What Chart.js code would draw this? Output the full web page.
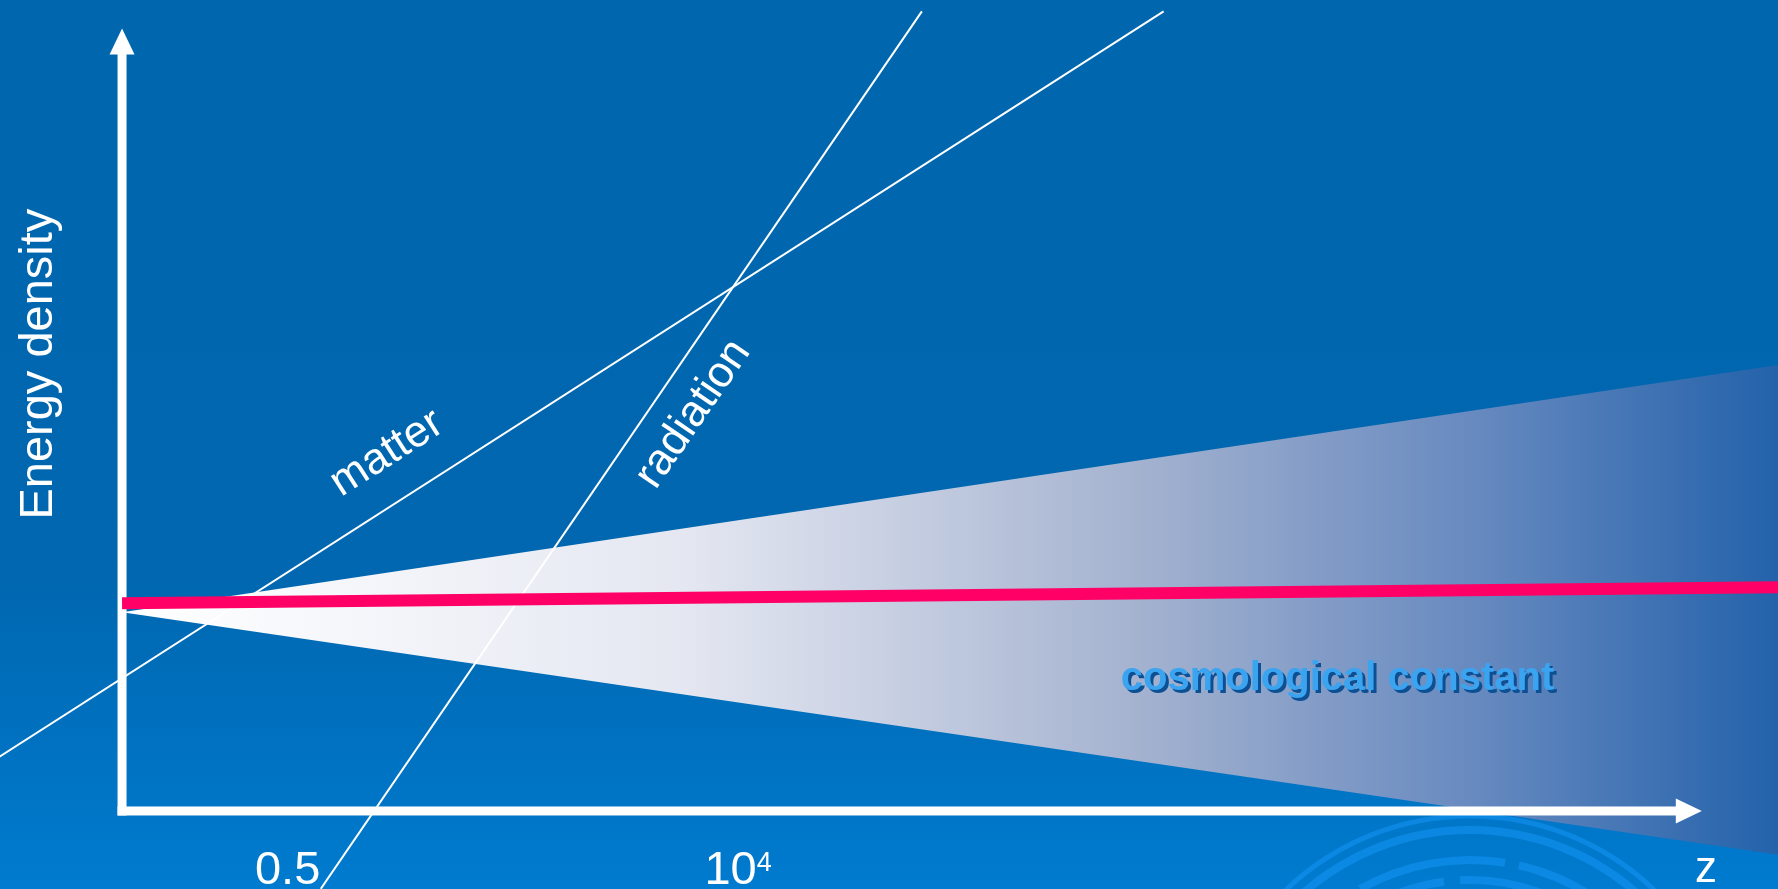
<!DOCTYPE html>
<html>
<head>
<meta charset="utf-8">
<script src="https://cdn.jsdelivr.net/npm/chart.js@4.4.0/dist/chart.umd.min.js"></script>
<style>
  html, body { margin: 0; padding: 0; background: #0066ae; overflow: hidden; }
  canvas { display: block; }
</style>
</head>
<body>
<canvas id="chart" width="1778" height="889"></canvas>
<script>
// energy density against z, in arbitrary (log) units
var lambdaX = [0, 100];
var lambdaY = [25.6, 27.6];
var matterX = [-7.4, 62.9];
var matterY = [6.7, 98.6];
var radiationX = [12.0, 48.3];
var radiationY = [-9.6, 98.6];
var wedgeX = [0, 100];
var wedgeTop = [24.5, 55.0];
var wedgeBottom = [24.5, -5.4];

var tickValues = [10, 37.2];
var tickLabels = ['0.5', '10'];
var tickPowers = ['', '4'];
var axisEnd = [95.4, 96.5];

var FONT = '"Liberation Sans", Arial, sans-serif';

function points(xs, ys) {
  return xs.map(function (x, i) { return { x: x, y: ys[i] }; });
}

function wedgeColor(context) {
  var chart = context.chart;
  if (!chart.chartArea) return '#ffffff';
  var xs = chart.scales.x;
  var x0 = xs.getPixelForValue(wedgeX[0]), x1 = xs.getPixelForValue(wedgeX[1]);
  var g = chart.ctx.createLinearGradient(x0, 0, x1, 0);
  g.addColorStop(0, 'rgb(255,255,255)');
  g.addColorStop(0.13, 'rgb(246,247,251)');
  g.addColorStop(0.34, 'rgb(228,231,241)');
  g.addColorStop(0.61, 'rgb(165,179,208)');
  g.addColorStop(0.82, 'rgb(102,137,191)');
  g.addColorStop(1, 'rgb(35,98,170)');
  return g;
}

function drawAxes(chart) {
  var ctx = chart.ctx, xs = chart.scales.x, ys = chart.scales.y;
  var ox = xs.getPixelForValue(0), oy = ys.getPixelForValue(0);
  var xe = xs.getPixelForValue(axisEnd[0]), ye = ys.getPixelForValue(axisEnd[1]);
  var head = 26, half = 12.5, w = 9;
  ctx.save();
  ctx.fillStyle = '#ffffff';
  ctx.fillRect(ox - w / 2, ye + head - 1, w, oy - ye - head + 1 + w / 2);
  ctx.fillRect(ox - w / 2, oy - w / 2, xe - head + 1 - ox + w / 2, w);
  ctx.beginPath();
  ctx.moveTo(ox, ye);
  ctx.lineTo(ox - half, ye + head);
  ctx.lineTo(ox + half, ye + head);
  ctx.closePath();
  ctx.fill();
  ctx.beginPath();
  ctx.moveTo(xe, oy);
  ctx.lineTo(xe - head, oy - half);
  ctx.lineTo(xe - head, oy + half);
  ctx.closePath();
  ctx.fill();
  ctx.restore();
}

function rotatedText(ctx, text, x, y, deg) {
  ctx.save();
  ctx.translate(x, y);
  ctx.rotate(deg * Math.PI / 180);
  ctx.fillText(text, 0, 0);
  ctx.restore();
}

var decor = {
  id: 'decor',
  beforeDraw: function (chart) {
    var ctx = chart.ctx, w = chart.width, h = chart.height;
    ctx.save();
    var g = ctx.createLinearGradient(0, 0, 0, h);
    g.addColorStop(0, '#0066ae');
    g.addColorStop(0.65, '#0067b0');
    g.addColorStop(1, '#007bcf');
    ctx.fillStyle = g;
    ctx.fillRect(0, 0, w, h);
    // template swirl in the corner
    ctx.strokeStyle = 'rgba(20,150,245,0.55)';
    var cx = 1470, cy = 1082;
    ctx.lineWidth = 5;
    ctx.beginPath(); ctx.arc(cx, cy, 266, Math.PI, 2 * Math.PI); ctx.stroke();
    ctx.lineWidth = 8;
    ctx.beginPath(); ctx.arc(cx, cy, 252, Math.PI, 2 * Math.PI); ctx.stroke();
    ctx.setLineDash([150, 14]);
    ctx.beginPath(); ctx.arc(cx, cy, 222, Math.PI * 1.1, 2 * Math.PI); ctx.stroke();
    ctx.setLineDash([90, 16]);
    ctx.beginPath(); ctx.arc(cx, cy, 202, Math.PI * 1.15, 1.9 * Math.PI); ctx.stroke();
    ctx.restore();
  },
  afterDatasetDraw: function (chart, args) {
    if (args.index === 3) drawAxes(chart);
  },
  afterDatasetsDraw: function (chart) {
    var ctx = chart.ctx, xs = chart.scales.x, ys = chart.scales.y;
    ctx.save();
    ctx.fillStyle = '#ffffff';
    ctx.textAlign = 'center';
    ctx.textBaseline = 'middle';
    ctx.font = '44px ' + FONT;
    rotatedText(ctx, 'matter', xs.getPixelForValue(16.0), ys.getPixelForValue(44.1), -32.7);
    rotatedText(ctx, 'radiation', xs.getPixelForValue(34.5), ys.getPixelForValue(48.95), -55.5);

    ctx.textBaseline = 'alphabetic';
    ctx.font = '47px ' + FONT;
    rotatedText(ctx, 'Energy density', xs.getPixelForValue(-4.23), ys.getPixelForValue(55.1), -90);

    ctx.font = '44px ' + FONT;
    ctx.fillText('z', xs.getPixelForValue(95.65), ys.getPixelForValue(-8.75));

    // tick labels with optional power
    ctx.textAlign = 'left';
    var by = ys.getPixelForValue(-9.0);
    tickValues.forEach(function (v, i) {
      ctx.font = '47px ' + FONT;
      var wb = ctx.measureText(tickLabels[i]).width;
      ctx.font = '27px ' + FONT;
      var we = tickPowers[i] ? ctx.measureText(tickPowers[i]).width : 0;
      var x0 = xs.getPixelForValue(v) - (wb + we) / 2;
      ctx.font = '47px ' + FONT;
      ctx.fillText(tickLabels[i], x0, by);
      if (tickPowers[i]) {
        ctx.font = '27px ' + FONT;
        ctx.fillText(tickPowers[i], x0 + wb, by - 13);
      }
    });

    // cosmological constant caption with drop shadow
    ctx.textAlign = 'center';
    ctx.font = 'bold 40px ' + FONT;
    var cx = xs.getPixelForValue(73.4), cy = ys.getPixelForValue(14.9);
    ctx.fillStyle = '#0c4f92';
    ctx.fillText('cosmological constant', cx + 3, cy + 3);
    ctx.fillStyle = '#3aa4f0';
    ctx.fillText('cosmological constant', cx, cy);
    ctx.restore();
  }
};

new Chart(document.getElementById('chart'), {
  type: 'scatter',
  data: {
    datasets: [
      { label: 'cosmological constant', data: points(lambdaX, lambdaY), showLine: true,
        borderColor: '#ff0066', borderWidth: 12, borderCapStyle: 'butt', order: 0 },
      { label: 'matter', data: points(matterX, matterY), showLine: true,
        borderColor: '#ffffff', borderWidth: 2, order: 1 },
      { label: 'radiation', data: points(radiationX, radiationY), showLine: true,
        borderColor: '#ffffff', borderWidth: 2, order: 2 },
      { label: 'wedge top', data: points(wedgeX, wedgeTop), showLine: true,
        borderColor: 'rgba(0,0,0,0)', borderWidth: 0, fill: false, order: 3 },
      { label: 'wedge bottom', data: points(wedgeX, wedgeBottom), showLine: true,
        borderColor: 'rgba(0,0,0,0)', borderWidth: 0, fill: 3,
        backgroundColor: wedgeColor, order: 4 }
    ]
  },
  options: {
    responsive: false,
    devicePixelRatio: 1,
    animation: false,
    layout: { padding: 0 },
    elements: { point: { radius: 0, hoverRadius: 0 }, line: { tension: 0 } },
    scales: {
      x: { type: 'linear', min: -7.37, max: 100, display: false },
      y: { type: 'linear', min: -9.62, max: 100, display: false }
    },
    plugins: { legend: { display: false }, tooltip: { enabled: false } }
  },
  plugins: [decor]
});
</script>
</body>
</html>
